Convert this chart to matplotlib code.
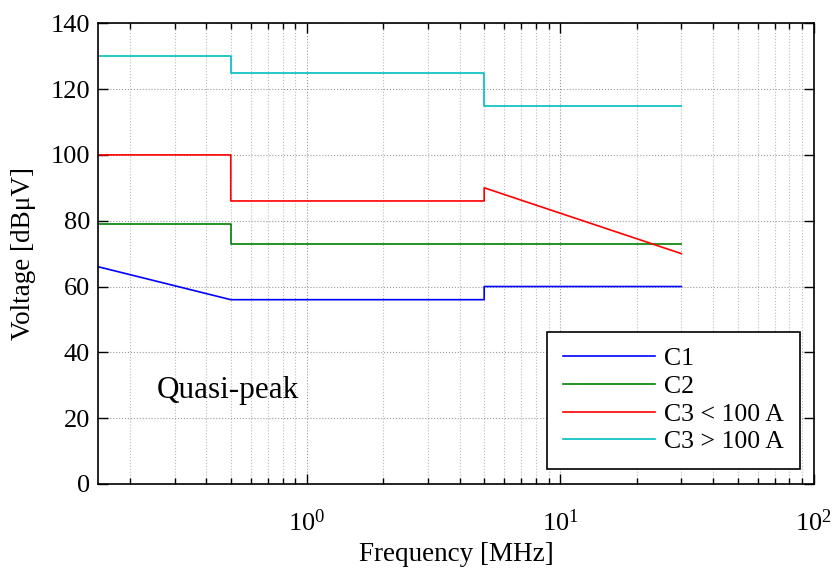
import matplotlib
matplotlib.use('Agg')
import matplotlib.pyplot as plt
from matplotlib.ticker import LogLocator, NullFormatter, MultipleLocator

plt.rcParams['font.family'] = ['Liberation Serif', 'DejaVu Serif']
plt.rcParams['mathtext.fontset'] = 'custom'
plt.rcParams['mathtext.rm'] = 'Liberation Serif'

# limit lines, frequency in MHz, level in dBuV
c1_f = [0.15, 0.5, 0.5, 5, 5, 30]
c1_v = [66, 56, 56, 56, 60, 60]
c2_f = [0.15, 0.5, 0.5, 30]
c2_v = [79, 79, 73, 73]
c3lo_f = [0.15, 0.5, 0.5, 5, 5, 30]
c3lo_v = [100, 100, 86, 86, 90, 70]
c3hi_f = [0.15, 0.5, 0.5, 5, 5, 30]
c3hi_v = [130, 130, 125, 125, 115, 115]
labels = ['C1', 'C2', 'C3 < 100 A', 'C3 > 100 A']

fig = plt.figure(figsize=(8.33, 5.68), dpi=100)
ax = fig.add_axes([0.118, 0.148, 0.859, 0.811])

# C1 drops log-linearly between 0.15 and 0.5 MHz
ax.semilogx(c1_f, c1_v, color='#0000ff', lw=1.2, label=labels[0])
ax.semilogx(c2_f, c2_v, color='#008000', lw=1.2, label=labels[1])
ax.semilogx(c3lo_f, c3lo_v, color='#ff0000', lw=1.2, label=labels[2])
ax.semilogx(c3hi_f, c3hi_v, color='#00bfbf', lw=1.2, label=labels[3])

ax.set_xlim(0.15, 100)
ax.set_ylim(0, 140)
ax.yaxis.set_major_locator(MultipleLocator(20))
ax.xaxis.set_major_locator(LogLocator(base=10, numticks=10))
ax.xaxis.set_minor_locator(LogLocator(base=10, subs=range(2, 10), numticks=20))
ax.xaxis.set_minor_formatter(NullFormatter())

ax.grid(True, which='major', color='#999999', ls=':', lw=0.8)
ax.grid(True, which='minor', axis='x', color='#bbbbbb', ls=':', lw=0.8)
ax.tick_params(which='both', direction='in', top=True, right=True, labelsize=19)
ax.tick_params(which='major', length=7, width=1)
ax.tick_params(which='minor', length=4, width=1)
ax.tick_params(axis='x', pad=18)
ax.tick_params(axis='y', pad=6)
for s in ax.spines.values():
    s.set_linewidth(1.2)

ax.set_xlabel('Frequency [MHz]', fontsize=19.5, labelpad=5)
ax.set_ylabel('Voltage [dBμV]', fontsize=19.5, labelpad=10)
ax.text(0.255, 26, 'Quasi-peak', fontsize=22.5, va='baseline')

leg = ax.legend(loc='lower right', fontsize=18.5, fancybox=False, framealpha=1,
                edgecolor='black', borderpad=0.6, handlelength=3.6,
                handletextpad=0.35, borderaxespad=0,
                bbox_to_anchor=(0.98, 0.033), labelspacing=0.18)
leg.get_frame().set_linewidth(1.2)

fig.savefig('out.png', dpi=100)
